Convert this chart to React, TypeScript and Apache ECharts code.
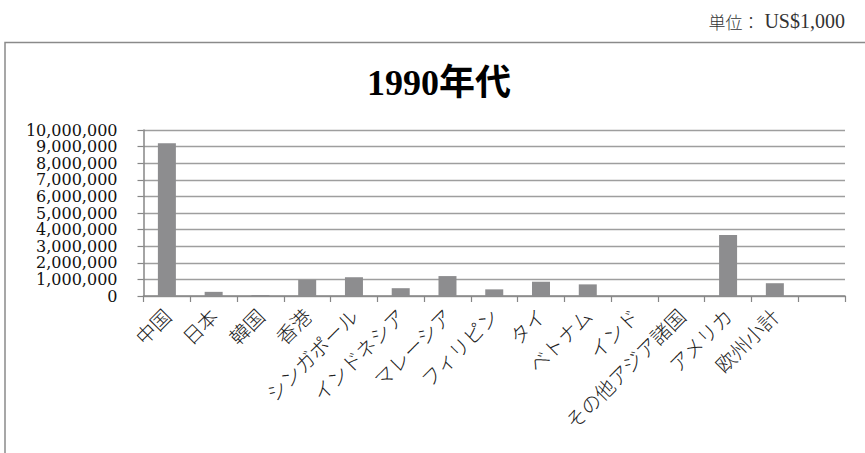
import React, { useEffect, useRef } from "react";
import * as echarts from "echarts";

// Investment by destination, 1990s (unit: US$1,000)
const categories: string[] = [
  "中国",
  "日本",
  "韓国",
  "香港",
  "シンガポール",
  "インドネシア",
  "マレーシア",
  "フィリピン",
  "タイ",
  "ベトナム",
  "インド",
  "その他アジア諸国",
  "アメリカ",
  "欧州小計",
  "",
];

const values: (number | null)[] = [
  9200000, 250000, 60000, 980000, 1130000, 470000, 1200000, 400000, 860000,
  700000, 0, 0, 3670000, 770000, null,
];

const titleText = "1990年代";
const unitLabel = "単位：";
const unitValue = " US$1,000";

const yMin = 0;
const yMax = 10000000;
const yStep = 1000000;

const serif = "'Liberation Serif', 'Noto Sans CJK JP', serif";
const cjk = "'Noto Sans CJK JP', sans-serif";

const withCommas = (v: number) =>
  String(v).replace(/\B(?=(\d{3})+(?!\d))/g, ",");

export default function App() {
  const ref = useRef<HTMLDivElement>(null);

  useEffect(() => {
    document.body.style.margin = "0";
    if (!ref.current) return;
    const chart = echarts.init(ref.current, undefined, { renderer: "svg" });
    chart.setOption({
      animation: false,
      backgroundColor: "#ffffff",
      graphic: [
        {
          type: "rect",
          shape: { x: 5, y: 42.5, width: 900, height: 500 },
          style: { fill: "none", stroke: "#8a8a8a", lineWidth: 1.5 },
          silent: true,
          z: -10,
        },
        {
          type: "text",
          right: 20,
          top: 11,
          style: {
            text: `{a|${unitLabel}}{b|${unitValue}}`,
            rich: {
              a: { fontFamily: cjk, fontSize: 17, fontWeight: 300, fill: "#333" },
              b: { fontFamily: serif, fontSize: 20, fill: "#333" },
            },
          },
        },
      ],
      title: {
        text: titleText,
        left: 434,
        textAlign: "center",
        top: 60,
        textStyle: {
          fontFamily: serif,
          fontSize: 36,
          fontWeight: "bold",
          color: "#000",
        },
      },
      grid: { left: 143.5, top: 130, right: 20, bottom: 157, containLabel: false },
      xAxis: {
        type: "category",
        data: categories,
        boundaryGap: true,
        axisLine: { show: true, lineStyle: { color: "#868686", width: 1.5 } },
        axisTick: { show: true, length: 6, lineStyle: { color: "#868686", width: 1.2 } },
        axisLabel: {
          interval: 0,
          rotate: 45,
          margin: 16,
          fontFamily: cjk,
          fontSize: 20,
          fontWeight: 300,
          color: "#222",
        },
      },
      yAxis: {
        type: "value",
        min: yMin,
        max: yMax,
        interval: yStep,
        axisLine: { show: true, lineStyle: { color: "#868686", width: 1.5 } },
        axisTick: { show: true, length: 6, lineStyle: { color: "#868686", width: 1.2 } },
        splitLine: { show: true, lineStyle: { color: "#9e9e9e", width: 1.3 } },
        axisLabel: {
          margin: 26,
          fontFamily: "'DejaVu Serif', serif",
          fontSize: 16,
          lineHeight: 16,
          color: "#111",
          showMinLabel: true,
          showMaxLabel: true,
          hideOverlap: false,
          formatter: (v: number) => withCommas(v),
        },
      },
      series: [
        {
          type: "bar",
          data: values,
          barWidth: 18,
          itemStyle: { color: "#8d8d8f" },
        },
      ],
    });
    return () => chart.dispose();
  }, []);

  return <div ref={ref} style={{ width: 865, height: 453 }} />;
}
